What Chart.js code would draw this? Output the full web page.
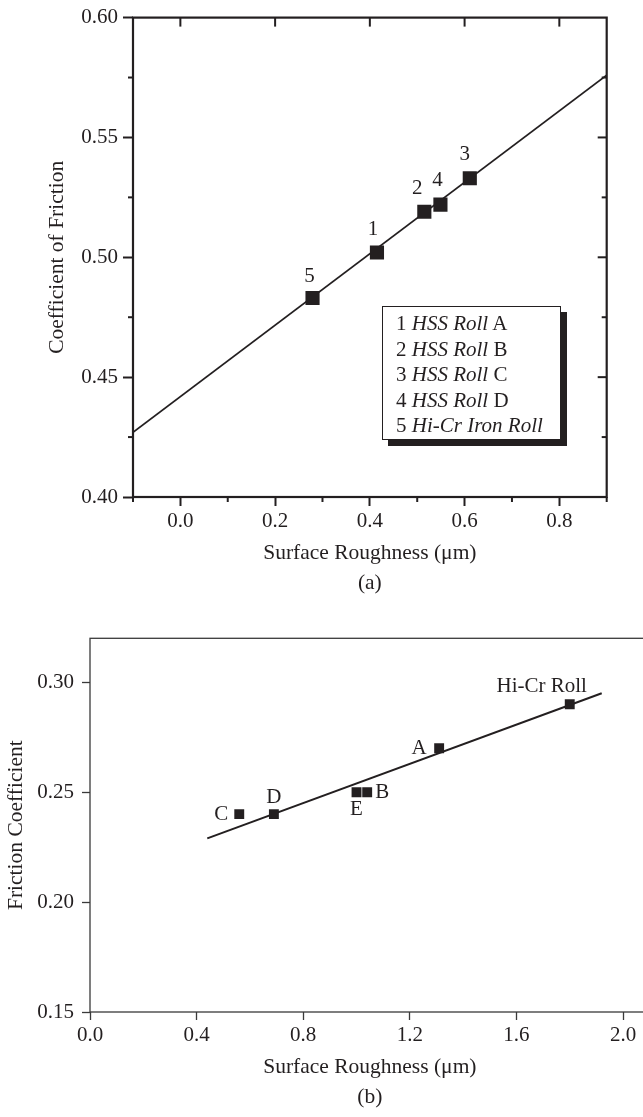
<!DOCTYPE html>
<html>
<head>
<meta charset="utf-8">
<script src="https://cdn.jsdelivr.net/npm/chart.js"></script>
<style>
html,body{margin:0;padding:0;background:#fff;overflow:hidden;width:643px;height:1117px;position:relative;}
canvas{position:absolute;left:0;}
#ca{top:0;}
#cb{top:610px;}
.legend{position:absolute;left:382px;top:306px;width:179px;height:134px;box-sizing:border-box;border:1px solid #231f20;background:#fff;box-shadow:6px 6px 0 #231f20;font-family:"Liberation Serif",serif;font-size:21px;color:#231f20;line-height:25.5px;padding:4px 0 0 13px;white-space:nowrap;}
</style>
</head>
<body>
<canvas id="ca" width="643" height="598"></canvas>
<canvas id="cb" width="680" height="502"></canvas>
<div class="legend" id="legend"></div>
<script>
// ---------- DATA (a) ----------
const rollNums   = ['1', '2', '3', '4', '5'];
const roughA     = [0.415, 0.515, 0.611, 0.549, 0.279];   // Surface roughness (µm)
const frictA     = [0.502, 0.519, 0.533, 0.522, 0.483];   // Coefficient of friction
const fitAX      = [-0.1, 0.9];
const fitAY      = [0.427, 0.576];
const xTicksA    = [0.0, 0.2, 0.4, 0.6, 0.8];
const xMinorA    = [-0.1, 0.1, 0.3, 0.5, 0.7, 0.9];
const yTicksA    = [0.40, 0.45, 0.50, 0.55, 0.60];
const yMinorA    = [0.425, 0.475, 0.525, 0.575];
const legendRoll = ['HSS Roll', 'HSS Roll', 'HSS Roll', 'HSS Roll', 'Hi-Cr Iron Roll'];
const legendTag  = ['A', 'B', 'C', 'D', ''];

// ---------- DATA (b) ----------
const labelsB    = ['Hi-Cr Roll', 'A', 'B', 'C', 'D', 'E'];
const roughB     = [1.80, 1.31, 1.04, 0.56, 0.69, 1.00];
const frictB     = [0.29, 0.27, 0.25, 0.24, 0.24, 0.25];
const fitBX      = [0.44, 1.92];
const fitBY      = [0.229, 0.295];
const xTicksB    = [0.0, 0.4, 0.8, 1.2, 1.6, 2.0];
const yTicksB    = [0.15, 0.20, 0.25, 0.30];

// ---------- STYLE ----------
const INK = '#231f20';
const FONT = 'Liberation Serif';
const TICK_SIZE = 21;
const TITLE_SIZE = 21.5;

// legend (HTML text)
document.getElementById('legend').innerHTML = rollNums.map((n, i) =>
  '<div>' + n + ' <i>' + legendRoll[i] + '</i>' + (legendTag[i] ? ' ' + legendTag[i] : '') + '</div>').join('');

const frameTicks = {
  id: 'frameTicks',
  afterDraw(chart, args, o) {
    const {ctx, chartArea: a, scales} = chart;
    ctx.save();
    ctx.strokeStyle = o.color;
    ctx.lineWidth = o.width;
    ctx.strokeRect(a.left, a.top, a.right - a.left, a.bottom - a.top);
    ctx.lineWidth = o.tickWidth;
    (o.marks || []).forEach(m => {
      m.values.forEach(v => {
        ctx.beginPath();
        if (m.side === 'top') { const x = scales.x.getPixelForValue(v); ctx.moveTo(x, a.top); ctx.lineTo(x, a.top + m.len); }
        else if (m.side === 'bottom') { const x = scales.x.getPixelForValue(v); ctx.moveTo(x, a.bottom); ctx.lineTo(x, a.bottom + m.len); }
        else if (m.side === 'left') { const y = scales.y.getPixelForValue(v); ctx.moveTo(a.left, y); ctx.lineTo(a.left - m.len, y); }
        else if (m.side === 'right') { const y = scales.y.getPixelForValue(v); ctx.moveTo(a.right, y); ctx.lineTo(a.right - m.len, y); }
        ctx.stroke();
      });
    });
    ctx.restore();
  }
};

const pointText = {
  id: 'pointText',
  afterDatasetsDraw(chart, args, o) {
    const {ctx} = chart;
    const meta = chart.getDatasetMeta(0);
    const names = o.names;
    ctx.save();
    ctx.font = o.size + 'px "' + FONT + '"';
    ctx.fillStyle = INK;
    ctx.textAlign = 'center';
    ctx.textBaseline = 'middle';
    meta.data.forEach((el, i) => {
      const off = o.offsets[names[i]] || [0, 0];
      ctx.fillText(names[i], el.x + off[0], el.y + off[1]);
    });
    ctx.restore();
  }
};

function axisFont(size, lh) { return {family: FONT, size: size, lineHeight: lh || 1.2}; }

// ---------- CHART (a) ----------
new Chart(document.getElementById('ca'), {
  type: 'scatter',
  data: {
    datasets: [
      {data: roughA.map((x, i) => ({x: x, y: frictA[i]})), pointStyle: 'rect', pointRadius: 10, pointHoverRadius: 10,
       backgroundColor: INK, borderColor: INK, borderWidth: 0},
      {type: 'line', data: fitAX.map((x, i) => ({x: x, y: fitAY[i]})), showLine: true, pointRadius: 0,
       borderColor: INK, borderWidth: 1.8, fill: false}
    ]
  },
  options: {
    responsive: false, animation: false, events: [],
    layout: {padding: {left: 44.1, top: 13.3, right: 36.3, bottom: 0}},
    plugins: {
      legend: {display: false}, tooltip: {enabled: false},
      frameTicks: {color: INK, width: 2.2, tickWidth: 2,
        marks: [
          {side: 'bottom', values: xMinorA, len: 5},
          {side: 'left', values: yMinorA, len: 5},
          {side: 'top', values: xTicksA, len: 9},
          {side: 'right', values: yTicksA.slice(1, -1), len: 9},
          {side: 'right', values: yMinorA, len: 5}
        ]},
      pointText: {names: rollNums, size: 21,
        offsets: {'1': [-4, -23], '2': [-7, -23], '3': [-5, -24], '4': [-3, -24], '5': [-3, -22]}}
    },
    scales: {
      x: {type: 'linear', min: -0.1, max: 0.9,
        afterBuildTicks: s => { s.ticks = xTicksA.map(v => ({value: v})); },
        afterFit: s => { s.height = 101; },
        ticks: {callback: v => Number(v).toFixed(1), font: axisFont(TICK_SIZE), color: INK, padding: 3, maxRotation: 0, autoSkip: false},
        grid: {drawOnChartArea: false, drawTicks: true, tickLength: 9, tickWidth: 2, tickColor: INK},
        border: {display: false},
        title: {display: true, text: ['Surface Roughness (μm)', '(a)'], font: axisFont(TITLE_SIZE, 1.395), color: INK, padding: 0}
      },
      y: {type: 'linear', min: 0.40, max: 0.60,
        afterBuildTicks: s => { s.ticks = yTicksA.map(v => ({value: v})); },
        afterFit: s => { s.width = 88.9; },
        ticks: {callback: v => Number(v).toFixed(2), font: axisFont(TICK_SIZE), color: INK, padding: 5},
        grid: {drawOnChartArea: false, drawTicks: true, tickLength: 10, tickWidth: 2, tickColor: INK},
        border: {display: false},
        title: {display: true, text: 'Coefficient of Friction', font: axisFont(TITLE_SIZE), color: INK, padding: 0}
      }
    }
  },
  plugins: [frameTicks, pointText]
});

// ---------- CHART (b) ----------
new Chart(document.getElementById('cb'), {
  type: 'scatter',
  data: {
    datasets: [
      {data: roughB.map((x, i) => ({x: x, y: frictB[i]})), pointStyle: 'rect', pointRadius: 7, pointHoverRadius: 7,
       backgroundColor: INK, borderColor: INK, borderWidth: 0},
      {type: 'line', data: fitBX.map((x, i) => ({x: x, y: fitBY[i]})), showLine: true, pointRadius: 0,
       borderColor: INK, borderWidth: 2, fill: false}
    ]
  },
  options: {
    responsive: false, animation: false, events: [],
    layout: {padding: {left: 3.4, top: 28.3, right: 30.3, bottom: 0}},
    plugins: {
      legend: {display: false}, tooltip: {enabled: false},
      frameTicks: {color: '#3a3a3a', width: 1.3, tickWidth: 1.3, marks: []},
      pointText: {names: labelsB, size: 21,
        offsets: {'Hi-Cr Roll': [-28, -18], 'A': [-20, 0], 'B': [15, 0], 'C': [-18, 0], 'D': [0, -17], 'E': [0, 17]}}
    },
    scales: {
      x: {type: 'linear', min: 0, max: 2.1,
        afterBuildTicks: s => { s.ticks = xTicksB.map(v => ({value: v})); },
        afterFit: s => { s.height = 100; },
        ticks: {callback: v => Number(v).toFixed(1), font: axisFont(TICK_SIZE), color: INK, padding: 3, maxRotation: 0, autoSkip: false},
        grid: {drawOnChartArea: false, drawTicks: true, tickLength: 8, tickWidth: 1.3, tickColor: '#3a3a3a'},
        border: {display: false},
        title: {display: true, text: ['Surface Roughness (μm)', '(b)'], font: axisFont(TITLE_SIZE, 1.395), color: INK, padding: 0}
      },
      y: {type: 'linear', min: 0.15, max: 0.32,
        afterBuildTicks: s => { s.ticks = yTicksB.map(v => ({value: v})); },
        afterFit: s => { s.width = 86.6; },
        ticks: {callback: v => Number(v).toFixed(2), font: axisFont(TICK_SIZE), color: INK, padding: 8},
        grid: {drawOnChartArea: false, drawTicks: true, tickLength: 8, tickWidth: 1.3, tickColor: '#3a3a3a'},
        border: {display: false},
        title: {display: true, text: 'Friction Coefficient', font: axisFont(TITLE_SIZE), color: INK, padding: 0}
      }
    }
  },
  plugins: [frameTicks, pointText]
});
</script>
</body>
</html>
